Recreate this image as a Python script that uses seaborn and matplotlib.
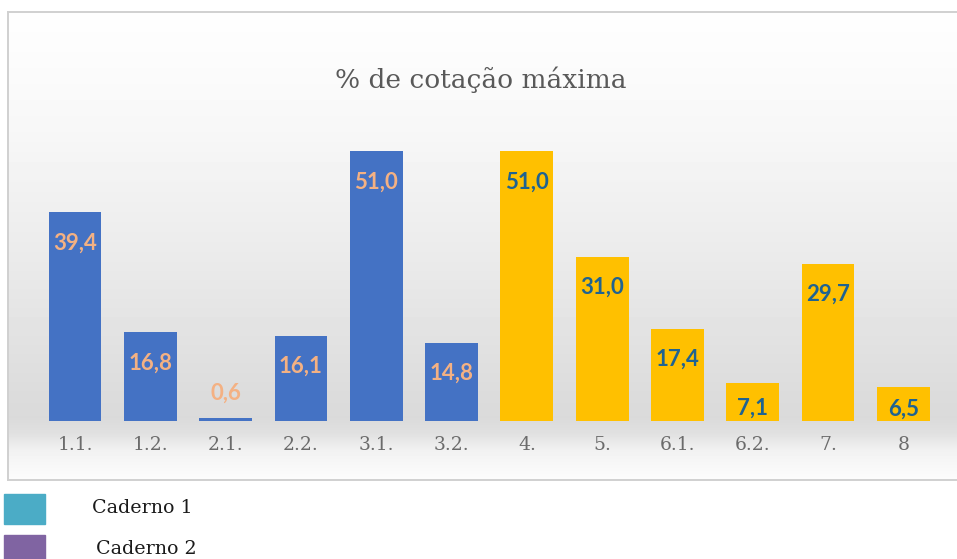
import numpy as np
import matplotlib
matplotlib.use("Agg")
import matplotlib.pyplot as plt
import seaborn as sns

# values
questions = ["1.1.", "1.2.", "2.1.", "2.2.", "3.1.", "3.2.", "4.", "5.", "6.1.", "6.2.", "7.", "8"]
percent = [39.4, 16.8, 0.6, 16.1, 51.0, 14.8, 51.0, 31.0, 17.4, 7.1, 29.7, 6.5]
booklet = ["Caderno 1"] * 6 + ["Caderno 2"] * 6
bar_colors = {"Caderno 1": "#4472C4", "Caderno 2": "#FFC000"}
label_colors = {"Caderno 1": "#F4B183", "Caderno 2": "#1F6391"}
legend_names = ["Caderno 1", "Caderno 2"]
legend_swatches = ["#4BACC6", "#8064A2"]

sns.set_theme(style="white")
plt.rcParams["font.family"] = ["DejaVu Sans"]

W, H = 957, 559
fig = plt.figure(figsize=(W / 100, H / 100), dpi=100)

# chart frame with vertical grey gradient (pixel coords converted to figure fractions)
fx0, fx1, fy0, fy1 = 8, 962, 12, 480
bg = fig.add_axes([fx0 / W, 1 - fy1 / H, (fx1 - fx0) / W, (fy1 - fy0) / H], zorder=0)
ys = np.array([0, 40, 120, 250, 380, 405, 420, 440, 468])
gs = np.array([254, 252, 247, 234, 220, 218, 224, 243, 252])
grad = np.interp(np.arange(fy1 - fy0), ys, gs) / 255.0
bg.imshow(np.repeat(grad[:, None], 4, axis=1), aspect="auto", cmap="gray", vmin=0, vmax=1,
          extent=[0, 1, 0, 1], origin="upper")
bg.set_xticks([])
bg.set_yticks([])
for s in bg.spines.values():
    s.set_color("#d0d0d0")
    s.set_linewidth(1.4)

# bar axes
ax_left, ax_right = 37.4, 941.0
base_y, top_y = 421, 12
ax = fig.add_axes([ax_left / W, 1 - base_y / H, (ax_right - ax_left) / W, (base_y - top_y) / H], zorder=1)
ax.patch.set_alpha(0)
px_per_unit = 270 / 51.0
ax.set_ylim(0, (base_y - top_y) / px_per_unit)

sns.barplot(x=questions, y=percent, hue=booklet, palette=bar_colors, dodge=False,
            width=0.7, legend=False, ax=ax, saturation=1, linewidth=0)
ax.set_xlim(-0.5, len(questions) - 0.5)

for i, (v, g) in enumerate(zip(percent, booklet)):
    if v < 2:
        ty = v + 4.6
    else:
        ty = v - min(5.8, v * 0.65)
    ax.text(i, ty, f"{v:.1f}".replace(".", ","), ha="center", va="center",
            fontsize=16, fontweight="bold", family="Lato", color=label_colors[g])

ax.set_yticks([])
ax.set_xlabel("")
ax.set_ylabel("")
ax.tick_params(axis="x", length=0, pad=11, labelsize=13.5, labelcolor="#6b6b6b")
for lab in ax.get_xticklabels():
    lab.set_family("DejaVu Serif")
sns.despine(ax=ax, left=True, bottom=True)

fig.text(481 / W, 1 - 80 / H, "% de cotação máxima", ha="center", va="center",
         fontsize=19, family="DejaVu Serif", color="#595959")

# legend swatches under the chart
for k, (name, col) in enumerate(zip(legend_names, legend_swatches)):
    y0 = 494 + k * 41
    fig.patches.append(plt.Rectangle((4 / W, 1 - (y0 + 30) / H), 41 / W, 30 / H,
                                     transform=fig.transFigure, color=col, zorder=3))
    fig.text((92 + k * 4) / W, 1 - (y0 + 14) / H, name, ha="left", va="center",
             fontsize=13.7, family="DejaVu Serif", color="#1a1a1a")

fig.savefig("out.png", dpi=100)
